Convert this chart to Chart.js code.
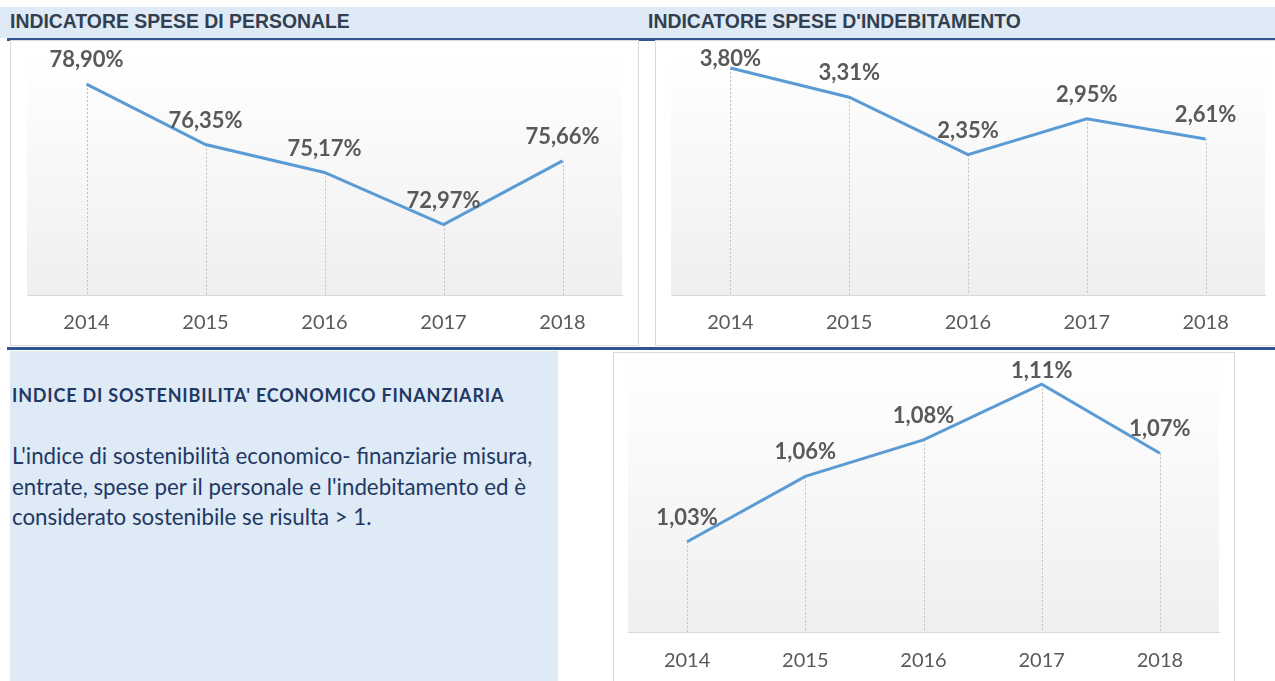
<!DOCTYPE html>
<html>
<head>
<meta charset="utf-8">
<script src="https://cdn.jsdelivr.net/npm/chart.js@4.4.0/dist/chart.umd.min.js"></script>
<style>
body { margin: 0; background: #fff; width: 1275px; height: 681px; overflow: hidden; position: relative; font-family: Lato, sans-serif; }
.bar { position: absolute; left: 0; top: 7px; width: 1275px; height: 31px; background: #deeaf6; }
.rule { position: absolute; left: 7px; width: 1268px; height: 3px; background: #2f5597; }
.title { position: absolute; top: 10px; font: bold 19.4px "Liberation Sans", Arial, sans-serif; color: #333f4f; white-space: nowrap; }
.box { position: absolute; border: 1px solid #d9d9d9; background: #fff; }
.box canvas { display: block; }
.panel { position: absolute; left: 10px; top: 351px; width: 548px; height: 330px; background: #deeaf6; color: #1f3864; }
.panel h3 { position: absolute; left: 2px; margin: 0; font: bold 18px Lato, sans-serif; letter-spacing: 0.8px; white-space: nowrap; }
.panel p { position: absolute; left: 2px; margin: 0; font: 22.3px Lato, sans-serif; line-height: 30.5px; white-space: nowrap; }
</style>
</head>
<body>
<div class="bar"></div>
<div class="title" style="left:10px">INDICATORE SPESE DI PERSONALE</div>
<div class="title" style="left:648px">INDICATORE SPESE D'INDEBITAMENTO</div>
<div class="rule" style="top:38px"></div>

<div class="box" style="left:10px;top:40px;width:627px;height:304px"><canvas id="c1" width="627" height="304"></canvas></div>
<div class="box" style="left:655px;top:40px;width:625px;height:304px"><canvas id="c2" width="625" height="304"></canvas></div>

<div class="rule" style="top:347px"></div>

<div class="panel">
  <h3 style="top:33px">INDICE DI SOSTENIBILITA' ECONOMICO FINANZIARIA</h3>
  <p style="top:90px">L'indice di sostenibilità economico- finanziarie misura,<br>entrate, spese per il personale e l'indebitamento ed è<br>considerato sostenibile se risulta &gt; 1.</p>
</div>

<div class="box" style="left:613px;top:352px;width:620px;height:330px"><canvas id="c3" width="620" height="330"></canvas></div>

<script>
const anni = ['2014', '2015', '2016', '2017', '2018']
const spesePersonale = [78.90, 76.35, 75.17, 72.97, 75.66]
const speseIndebitamento = [3.80, 3.31, 2.35, 2.95, 2.61]
const sostenibilita = [1.027, 1.061, 1.080, 1.109, 1.073]

// sfondo sfumato dell'area del grafico
const sfondo = {
    id: 'sfondo',
    beforeDraw(chart) {
        const {ctx, chartArea: a} = chart
        const g = ctx.createLinearGradient(0, a.top, 0, a.bottom)
        g.addColorStop(0, '#ffffff')
        g.addColorStop(1, '#efefef')
        ctx.save()
        ctx.fillStyle = g
        ctx.fillRect(a.left, a.top, a.right - a.left, a.bottom - a.top)
        ctx.restore()
    }
}

// linee di proiezione tratteggiate
const proiezioni = {
    id: 'proiezioni',
    beforeDatasetsDraw(chart) {
        const ctx = chart.ctx
        const bottom = chart.chartArea.bottom
        ctx.save()
        ctx.strokeStyle = '#c0c0c0'
        ctx.lineWidth = 1
        ctx.setLineDash([2, 2])
        chart.getDatasetMeta(0).data.forEach(pt => {
            const x = Math.round(pt.x) + 0.5
            ctx.beginPath()
            ctx.moveTo(x, pt.y)
            ctx.lineTo(x, bottom)
            ctx.stroke()
        })
        ctx.restore()
    }
}

// etichette dei valori sopra i punti
const etichette = {
    id: 'etichette',
    afterDatasetsDraw(chart) {
        const ctx = chart.ctx
        const valori = chart.data.datasets[0].data
        ctx.save()
        ctx.font = 'bold 22px Lato'
        ctx.fillStyle = '#595959'
        ctx.textAlign = 'center'
        ctx.textBaseline = 'middle'
        chart.getDatasetMeta(0).data.forEach((pt, i) => {
            const y = Math.max(pt.y - 24, 18)
            ctx.fillText(valori[i].toFixed(2).replace('.', ',') + '%', pt.x, y)
        })
        ctx.restore()
    }
}

function grafico(id, valori, min, max, padding, tickPad) {
    return new Chart(document.getElementById(id), {
        type: 'line',
        data: {
            labels: anni,
            datasets: [{
                data: valori,
                borderColor: '#5b9bd5',
                borderWidth: 3,
                pointRadius: 0,
                tension: 0,
                fill: false
            }]
        },
        options: {
            responsive: false,
            animation: false,
            layout: { padding: padding },
            plugins: { legend: { display: false }, tooltip: { enabled: false } },
            scales: {
                x: {
                    offset: true,
                    grid: { display: false, drawTicks: false },
                    border: { display: true, color: '#d9d9d9', width: 1 },
                    ticks: { color: '#595959', font: { family: 'Lato', size: 20 }, padding: tickPad }
                },
                y: { display: false, min: min, max: max }
            }
        },
        plugins: [sfondo, proiezioni, etichette]
    })
}

grafico('c1', spesePersonale, 70, 80, { left: 16, right: 16, top: 17, bottom: -6 }, 16)
grafico('c2', speseIndebitamento, 0, 4, { left: 15, right: 16, top: 15, bottom: -6 }, 16)
grafico('c3', sostenibilita, 0.98, 1.12, { left: 14, right: 15, top: 10, bottom: -7 }, 17)
</script>
</body>
</html>
